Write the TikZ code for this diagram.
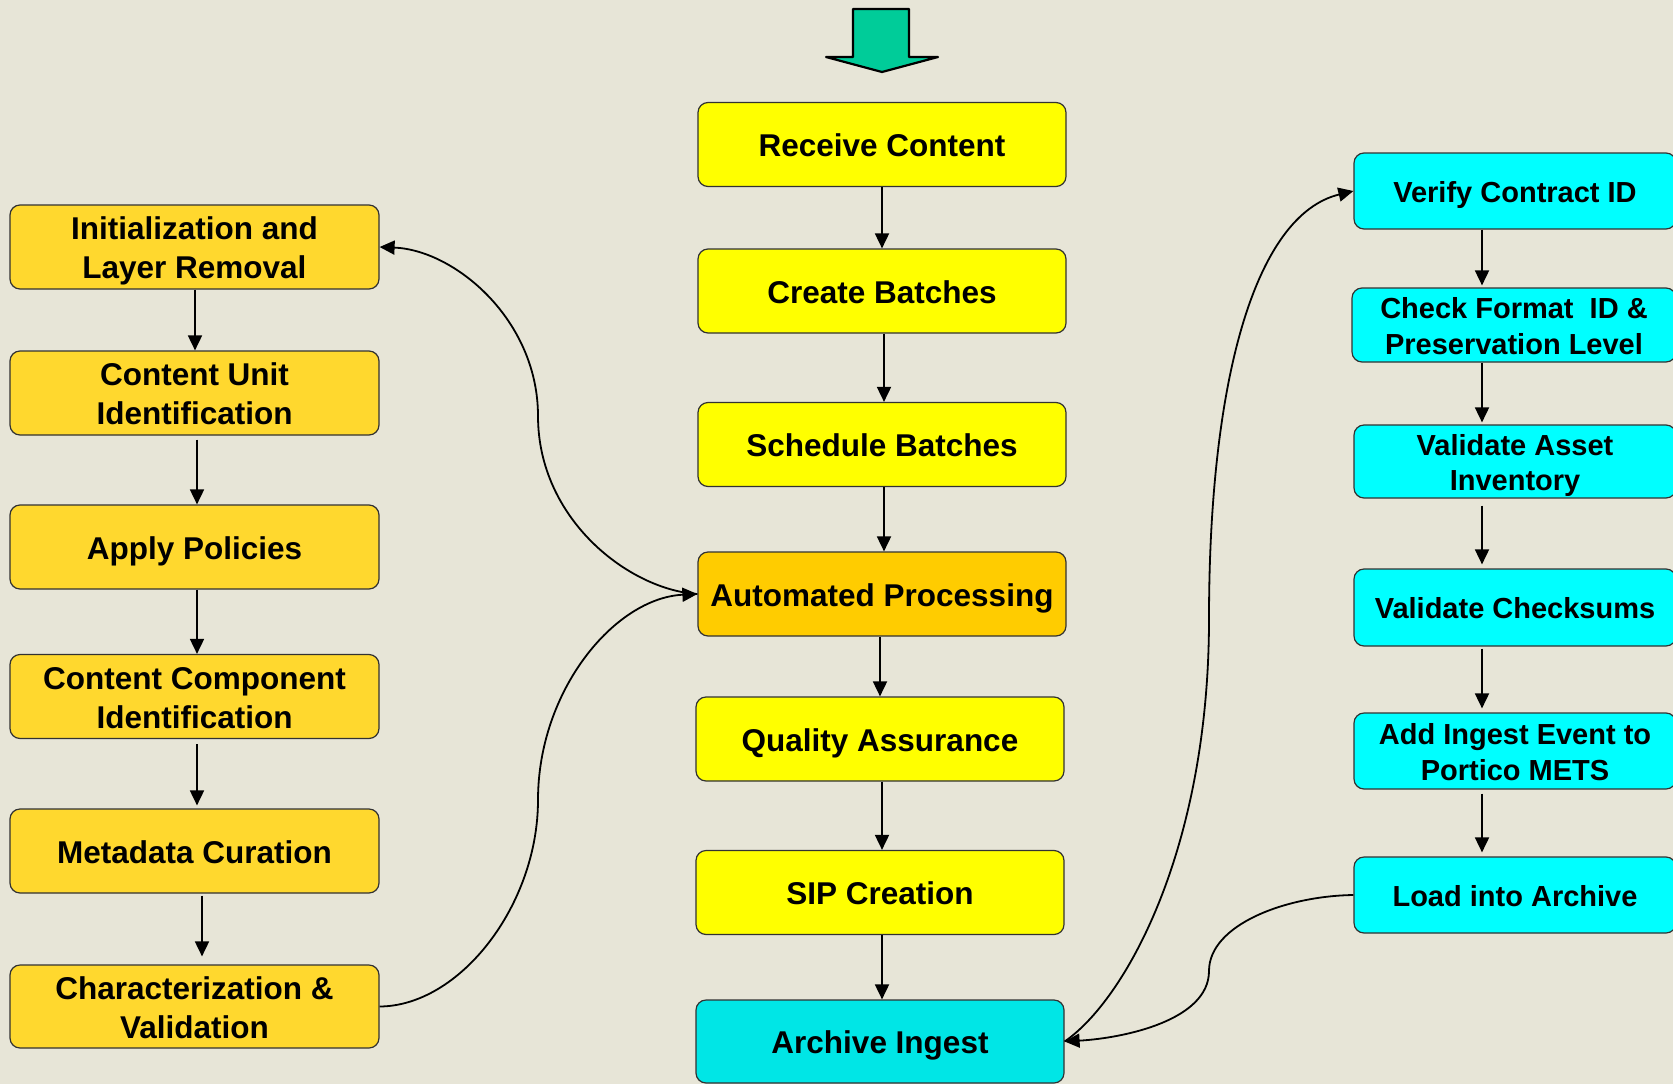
\documentclass[tikz,border=0pt]{standalone}
\usepackage{fontspec}
\setmainfont{Liberation Sans}
\usetikzlibrary{arrows.meta}
\definecolor{bgc}{RGB}{231,229,215}
\definecolor{yel}{RGB}{255,255,0}
\definecolor{orng}{RGB}{255,204,0}
\definecolor{gold}{RGB}{255,216,46}
\definecolor{cyn}{RGB}{0,255,255}
\definecolor{dcyn}{RGB}{0,230,230}
\definecolor{teal}{RGB}{0,204,153}
\definecolor{edge}{RGB}{50,50,50}
% one line of box text: fixed height (caps + a little), no depth
\newcommand\tline[1]{\raisebox{0pt}[0.79em][0pt]{#1}}
\tikzset{
  box/.style={draw=edge, line width=1.2pt, rounded corners=10pt, align=center, inner sep=0pt,
    font=\fontsize{31.5}{39}\selectfont\bfseries},
  cbox/.style={box, fill=yel, minimum width=368pt, minimum height=84pt},
  lbox/.style={box, fill=gold, minimum width=369pt, minimum height=84pt},
  rbox/.style={box, fill=cyn, minimum width=322pt, minimum height=75pt,
    font=\fontsize{29}{35.5}\selectfont\bfseries},
  arr/.style={line width=1.8pt, -{Triangle[length=15pt,width=14pt]}},
}
\begin{document}
\begin{tikzpicture}[x=1pt,y=-1pt]
\fill[bgc] (0,0) rectangle (1673,1084);
\useasboundingbox (0,0) rectangle (1673,1084);

% top arrow
\draw[line width=2.2pt, fill=teal, line join=round] (853,9) -- (909,9) -- (909,57) -- (938,57) -- (882,72) -- (826,57) -- (853,57) -- cycle;

% centre column
\node[cbox] (rc) at (882,144.5) {\tline{Receive Content}};
\node[cbox] (cb) at (882,291) {\tline{Create Batches}};
\node[cbox] (sb) at (882,444.5) {\tline{Schedule Batches}};
\node[cbox, fill=orng] (ap) at (882,594) {\tline{Automated Processing}};
\node[cbox] (qa) at (880,739) {\tline{Quality Assurance}};
\node[cbox] (sip) at (880,892.5) {\tline{SIP Creation}};
\node[cbox, fill=dcyn, minimum height=83pt] (ai) at (880,1041.5) {\tline{Archive Ingest}};

% left column
\node[lbox] (init) at (194.5,247) {\tline{Initialization and}\\\tline{Layer Removal}};
\node[lbox] (cu) at (194.5,393) {\tline{Content Unit}\\\tline{Identification}};
\node[lbox] (apol) at (194.5,547) {\tline{Apply Policies}};
\node[lbox] (cc) at (194.5,696.5) {\tline{Content Component}\\\tline{Identification}};
\node[lbox] (mc) at (194.5,851) {\tline{Metadata Curation}};
\node[lbox, minimum height=83pt] (cv) at (194.5,1006.5) {\tline{Characterization \&}\\\tline{Validation}};

% right column
\node[rbox, minimum height=76pt] (vc) at (1515,191) {\tline{Verify Contract ID}};
\node[rbox, minimum height=74pt, minimum width=324pt] (cf) at (1514,325) {\tline{Check Format\ \ ID \&}\\\tline{Preservation Level}};
\node[rbox, minimum height=73pt] (va) at (1515,461.5) {\tline{Validate Asset}\\\tline{Inventory}};
\node[rbox, minimum height=77pt] (vcs) at (1515,607.5) {\tline{Validate Checksums}};
\node[rbox, minimum height=76pt] (aie) at (1515,751) {\tline{Add Ingest Event to}\\\tline{Portico METS}};
\node[rbox, minimum height=76pt] (la) at (1515,895) {\tline{Load into Archive}};

% centre arrows
\draw[arr] (rc.south) -- (rc.south |- cb.north);
\draw[arr] ([xshift=2pt]cb.south) -- ([xshift=2pt]cb.south |- sb.north);
\draw[arr] ([xshift=2pt]sb.south) -- ([xshift=2pt]sb.south |- ap.north);
\draw[arr] ([xshift=-2pt]ap.south) -- ([xshift=-2pt]ap.south |- qa.north);
\draw[arr] ([xshift=2pt]qa.south) -- ([xshift=2pt]qa.south |- sip.north);
\draw[arr] ([xshift=2pt]sip.south) -- ([xshift=2pt]sip.south |- ai.north);

% left arrows
\draw[arr] ([xshift=0.5pt]init.south) -- ([xshift=0.5pt]init.south |- cu.north);
\draw[arr] ([xshift=2.5pt,yshift=-4pt]cu.south) -- ([xshift=2.5pt]cu.south |- apol.north);
\draw[arr] ([xshift=2.5pt]apol.south) -- ([xshift=2.5pt]apol.south |- cc.north);
\draw[arr] ([xshift=2.5pt,yshift=-5pt]cc.south) -- ([xshift=2.5pt,yshift=3pt]cc.south |- mc.north);
\draw[arr] ([xshift=7.5pt,yshift=-2pt]mc.south) -- ([xshift=7.5pt,yshift=8pt]mc.south |- cv.north);

% right arrows (x = 1482)
\draw[arr] ([xshift=-33pt]vc.south) -- ([xshift=-33pt,yshift=2pt]vc.south |- cf.north);
\draw[arr] ([xshift=-32pt]cf.south) -- ([xshift=-32pt,yshift=2pt]cf.south |- va.north);
\draw[arr] ([xshift=-33pt,yshift=-7pt]va.south) -- ([xshift=-33pt,yshift=4pt]va.south |- vcs.north);
\draw[arr] ([xshift=-33pt,yshift=-2pt]vcs.south) -- ([xshift=-33pt,yshift=4pt]vcs.south |- aie.north);
\draw[arr] ([xshift=-33pt,yshift=-4pt]aie.south) -- ([xshift=-33pt,yshift=4pt]aie.south |- la.north);

% curved connectors
\draw[arr] (ap.west) .. controls (630,590) and (538,520) .. (538,416) .. controls (538,320) and (455,250) .. (init.east);
\draw[arr] (cv.east) .. controls (460,1006) and (538,905) .. (538,800) .. controls (538,690) and (615,598) .. (ap.west);
\draw[arr] (ai.east) .. controls (1125,1000) and (1209,850) .. (1209,619) .. controls (1209,380) and (1255,215) .. (vc.west);
\draw[arr] (la.west) .. controls (1285,896) and (1209,925) .. (1209,971) .. controls (1209,1020) and (1125,1038) .. (ai.east);
\end{tikzpicture}
\end{document}
